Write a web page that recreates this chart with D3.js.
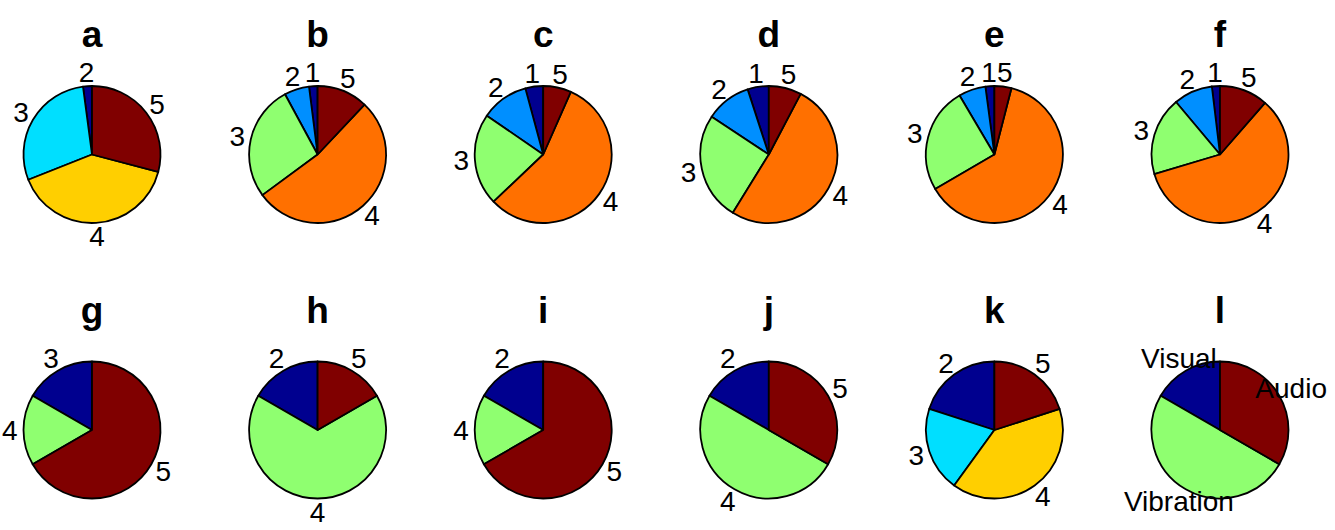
<!DOCTYPE html>
<html>
<head>
<meta charset="utf-8">
<script src="https://cdn.jsdelivr.net/npm/d3@7"></script>
<style>
  html, body { margin: 0; padding: 0; background: #fff; }
  svg { display: block; }
</style>
</head>
<body>
<svg id="chart" width="1335" height="530"></svg>
<script>
// ---- data (percent shares, counter-clockwise from 12 o'clock) ----
const panelTitles = ["a","b","c","d","e","f","g","h","i","j","k","l"];

const labelsA = ["2","3","4","5"];             const valuesA = [2.1, 28.9, 39.9, 29.1];
const labelsB = ["1","2","3","4","5"];         const valuesB = [2.0, 5.9, 27.2, 52.9, 12.0];
const labelsC = ["1","2","3","4","5"];         const valuesC = [4.2, 11.2, 21.7, 56.3, 6.6];
const labelsD = ["1","2","3","4","5"];         const valuesD = [5.0, 10.7, 25.5, 51.1, 7.7];
const labelsE = ["1","2","3","4","5"];         const valuesE = [2.1, 6.4, 24.9, 62.6, 4.0];
const labelsF = ["1","2","3","4","5"];         const valuesF = [1.9, 9.2, 18.5, 59.0, 11.4];
const labelsG = ["3","4","5"];                 const valuesG = [1, 1, 4];
const labelsH = ["2","4","5"];                 const valuesH = [1, 4, 1];
const labelsI = ["2","4","5"];                 const valuesI = [1, 1, 4];
const labelsJ = ["2","4","5"];                 const valuesJ = [1, 3, 2];
const labelsK = ["2","3","4","5"];             const valuesK = [1, 1, 2, 1];
const labelsL = ["Visual","Vibration","Audio"]; const valuesL = [1, 3, 2];

const panelLabels = [labelsA,labelsB,labelsC,labelsD,labelsE,labelsF,labelsG,labelsH,labelsI,labelsJ,labelsK,labelsL];
const panelValues = [valuesA,valuesB,valuesC,valuesD,valuesE,valuesF,valuesG,valuesH,valuesI,valuesJ,valuesK,valuesL];

// ---- MATLAB-like jet(64) colormap ----
function jet64(i) { // i: 1..64
  const n = 16;
  const r = i <= 24 ? 0 : i <= 40 ? (i - 24) / n : i <= 56 ? 1 : 1 - (i - 56) / n;
  const g = i <= 8 ? 0 : i <= 24 ? (i - 8) / n : i <= 40 ? 1 : i <= 56 ? 1 - (i - 40) / n : 0;
  const b = i <= 8 ? (i + 8) / n : i <= 24 ? 1 : i <= 40 ? 1 - (i - 24) / n : 0;
  return d3.rgb(Math.round(r * 255), Math.round(g * 255), Math.round(b * 255)).formatHex();
}
function sliceColor(k, n) { // k: 0..n-1
  const idx = Math.min(64, Math.floor(k / (n - 1) * 64) + 1);
  return jet64(idx);
}

// ---- layout ----
const svg = d3.select("#chart");
const colX = d3.scalePoint().domain(d3.range(6)).range([92, 1220]);
const rowY = d3.scalePoint().domain([0, 1]).range([154.5, 430]);
const R = 68.5;
const titleGap = 107.5;

const pie = d3.pie().sort(null).startAngle(0).endAngle(-2 * Math.PI);
const arc = d3.arc().innerRadius(0).outerRadius(R);

panelTitles.forEach((t, p) => {
  const cx = colX(p % 6), cy = rowY(Math.floor(p / 6));
  const g = svg.append("g").attr("transform", `translate(${cx},${cy})`);
  const vals = panelValues[p], labs = panelLabels[p];
  const arcs = pie(vals);
  const n = vals.length;

  g.selectAll("path").data(arcs).enter().append("path")
    .attr("d", arc)
    .attr("fill", (d, i) => sliceColor(i, n))
    .attr("stroke", "#000")
    .attr("stroke-width", 1.8)
    .attr("stroke-linejoin", "round");

  g.selectAll("text.lab").data(arcs).enter().append("text")
    .attr("class", "lab")
    .attr("x", d => Math.sin((d.startAngle + d.endAngle) / 2) * R * 1.2)
    .attr("y", d => -Math.cos((d.startAngle + d.endAngle) / 2) * R * 1.2)
    .attr("text-anchor", "middle")
    .attr("dominant-baseline", "central")
    .attr("font-family", "'Liberation Sans', Arial, Helvetica, sans-serif")
    .attr("font-size", 28)
    .attr("fill", "#000")
    .text((d, i) => labs[i]);

  g.append("text")
    .attr("x", 0)
    .attr("y", -titleGap)
    .attr("text-anchor", "middle")
    .attr("font-family", "'Liberation Sans', Arial, Helvetica, sans-serif")
    .attr("font-weight", "bold")
    .attr("font-size", 37)
    .attr("fill", "#000")
    .text(t);
});
</script>
</body>
</html>
